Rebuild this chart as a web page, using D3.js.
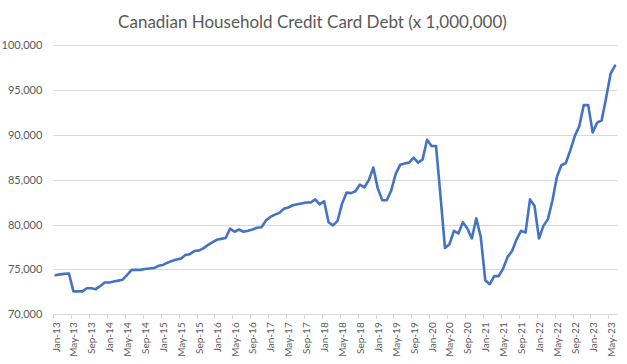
<!DOCTYPE html>
<html>
<head>
<meta charset="utf-8">
<script src="https://d3js.org/d3.v7.min.js"></script>
<style>
  body { margin: 0; background: #fff; }
  text { font-family: Lato, "Open Sans", sans-serif; fill: #595959; }
</style>
</head>
<body>
<svg id="chart" width="627" height="364"></svg>
<script>
// data: monthly credit card debt, Jan-13 .. Jun-23
var firstMonth = new Date(2013, 0, 1);
var lastMonth = new Date(2023, 5, 1);
var debt = [
  74350, 74450, 74500, 74550, 72550, 72550, 72550, 72900, 72900, 72800, 73150, 73550,
  73550, 73650, 73750, 73850, 74400, 74950, 74950, 74950, 75050, 75100, 75150, 75400,
  75500, 75750, 75950, 76100, 76200, 76600, 76700, 77050, 77100, 77350, 77700, 78000,
  78300, 78400, 78500, 79550, 79200, 79450, 79200, 79300, 79450, 79650, 79700, 80450,
  80850, 81100, 81300, 81750, 81900, 82150, 82250, 82350, 82450, 82450, 82800, 82250,
  82600, 80250, 79900, 80400, 82300, 83550, 83500, 83700, 84450, 84150, 84950, 86350,
  84000, 82700, 82700, 83800, 85650, 86650, 86800, 86900, 87450, 86900, 87250, 89450,
  88750, 88750, 83200, 77400, 77800, 79300, 79000, 80250, 79550, 78450, 80700, 78600,
  73800, 73350, 74250, 74250, 75100, 76400, 77050, 78350, 79300, 79100, 82800, 82100,
  78450, 79850, 80600, 82650, 85300, 86600, 86850, 88250, 89850, 90950, 93300, 93300,
  90250, 91350, 91600, 94100, 96800, 97700
];
var yTicks = [70000, 75000, 80000, 85000, 90000, 95000, 100000];
var labelEvery = 4;
var title = "Canadian Household Credit Card Debt (x 1,000,000)";

var svg = d3.select("#chart"),
    width = +svg.attr("width"),
    height = +svg.attr("height");

var plot = {left: 53.3, right: 617.3, top: 45, bottom: 314.3};

var fmtMonth = d3.timeFormat("%b-%y");
var months = d3.timeMonth.range(firstMonth, d3.timeMonth.offset(lastMonth, 1)).map(fmtMonth);

var x = d3.scaleBand()
  .domain(months)
  .range([plot.left, plot.right])
  .padding(0);

var y = d3.scaleLinear()
  .domain([70000, 100000])
  .range([plot.bottom, plot.top]);

// title
svg.append("text")
  .attr("x", width / 2 - 1)
  .attr("y", 27.5)
  .attr("text-anchor", "middle")
  .style("font-size", "17px")
  .text(title);

// gridlines
svg.append("g")
  .selectAll("line")
  .data(yTicks)
  .enter().append("line")
  .attr("x1", plot.left)
  .attr("x2", plot.right)
  .attr("y1", function(d) { return Math.round(y(d)) + 0.5; })
  .attr("y2", function(d) { return Math.round(y(d)) + 0.5; })
  .attr("stroke", "#d9d9d9")
  .attr("stroke-width", 1);

// y labels
var yAxis = d3.axisLeft(y)
  .tickValues(yTicks)
  .tickSize(0)
  .tickPadding(11)
  .tickFormat(d3.format(","));

svg.append("g")
  .attr("transform", "translate(" + plot.left + ",0)")
  .call(yAxis)
  .call(function(g) { g.select(".domain").remove(); })
  .selectAll("text")
  .style("font-size", "11px")
  .style("font-family", "Lato, sans-serif")
  .attr("fill", "#595959");

// x axis: ticks between categories, every 4th month
var tickMonths = months.filter(function(d, i) { return i % labelEvery === 0; });

var xg = svg.append("g");
xg.selectAll("line")
  .data(tickMonths)
  .enter().append("line")
  .attr("x1", function(d) { return Math.round(x(d)) + 0.5; })
  .attr("x2", function(d) { return Math.round(x(d)) + 0.5; })
  .attr("y1", Math.round(plot.bottom))
  .attr("y2", Math.round(plot.bottom) + 5)
  .attr("stroke", "#d9d9d9");

xg.selectAll("text")
  .data(tickMonths)
  .enter().append("text")
  .attr("transform", function(d) {
    return "translate(" + (x(d) + x.bandwidth() / 2 + 0.5) + "," + (plot.bottom + 8) + ") rotate(-90)";
  })
  .attr("dy", "0.35em")
  .attr("text-anchor", "end")
  .style("font-size", "10px")
  .text(function(d) { return d; });

// the line
var line = d3.line()
  .x(function(d, i) { return x(months[i]) + x.bandwidth() / 2; })
  .y(function(d) { return y(d); });

svg.append("path")
  .datum(debt)
  .attr("d", line)
  .attr("fill", "none")
  .attr("stroke", "#4472c4")
  .attr("stroke-width", 2.6)
  .attr("stroke-linejoin", "round")
  .attr("stroke-linecap", "round");
</script>
</body>
</html>
